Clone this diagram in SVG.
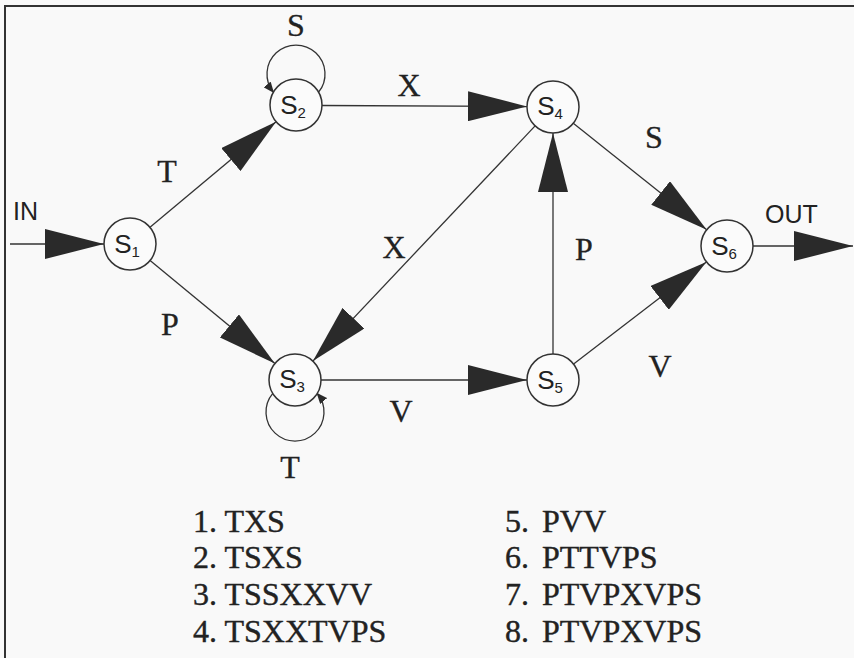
<svg xmlns="http://www.w3.org/2000/svg" width="854" height="658" viewBox="0 0 854 658">
<style>
.edge{fill:none;stroke:#333;stroke-width:1.3}
.node{fill:#fbfbfb;stroke:#333;stroke-width:1.5}
.nl{font-family:"Liberation Sans",Arial,sans-serif;font-size:26px;fill:#222;text-anchor:middle}
.sub{font-size:15px}
.el{font-family:"Liberation Serif","Times New Roman",serif;font-size:32px;fill:#222;stroke:#222;stroke-width:0.3;text-anchor:middle}
.io{font-family:"Liberation Sans",Arial,sans-serif;font-size:25px;fill:#222}
.li{font-family:"Liberation Serif","Times New Roman",serif;font-size:32px;fill:#222;stroke:#222;stroke-width:0.4}
</style>
<defs>
<marker id="big" markerUnits="userSpaceOnUse" markerWidth="60" markerHeight="30" refX="59" refY="15" orient="auto" viewBox="0 0 60 30">
<path d="M0,0 L59,15 L0,30 Z" fill="#2a2a2a"/>
</marker>
<marker id="small" markerUnits="userSpaceOnUse" markerWidth="11" markerHeight="9" refX="10" refY="4.5" orient="auto" viewBox="0 0 11 9">
<path d="M0,0 L11,4.5 L0,9 Z" fill="#2a2a2a"/>
</marker>
</defs>
<rect x="0" y="0" width="854" height="658" fill="#f9f9f9"/>
<path d="M5,658 L5,6 L854,6" fill="none" stroke="#333" stroke-width="2"/>

<g id="connectors">
<line class="edge" x1="10" y1="244" x2="104" y2="244" marker-end="url(#big)"/>
<line class="edge" x1="150" y1="227.3" x2="276.1" y2="121.7" marker-end="url(#big)"/>
<line class="edge" x1="150.1" y1="260.5" x2="274.9" y2="363.5" marker-end="url(#big)"/>
<line class="edge" x1="322" y1="105.5" x2="527" y2="106.5" marker-end="url(#big)"/>
<line class="edge" x1="535.1" y1="125.9" x2="312.9" y2="361.1" marker-end="url(#big)"/>
<line class="edge" x1="573.3" y1="123.2" x2="706.7" y2="229.8" marker-end="url(#big)"/>
<line class="edge" x1="553" y1="354" x2="553" y2="133" marker-end="url(#big)"/>
<line class="edge" x1="321" y1="380" x2="527" y2="380" marker-end="url(#big)"/>
<line class="edge" x1="573.6" y1="364.1" x2="706.4" y2="261.9" marker-end="url(#big)"/>
<line class="edge" x1="753" y1="246" x2="853" y2="246" marker-end="url(#big)"/>
<path class="edge" d="M318.6,92.2 A29,29 0 1 0 273.4,92.2" marker-end="url(#small)"/>
<path class="edge" d="M272.8,393.4 A29,29 0 1 0 317.2,393.4" marker-end="url(#small)"/>
</g>

<g id="edge-labels">
<text class="el" x="296" y="36">S</text>
<text class="el" x="167" y="182">T</text>
<text class="el" x="409" y="96">X</text>
<text class="el" x="394" y="258">X</text>
<text class="el" x="170" y="335">P</text>
<text class="el" x="290" y="478">T</text>
<text class="el" x="401" y="422">V</text>
<text class="el" x="584" y="260">P</text>
<text class="el" x="654" y="148">S</text>
<text class="el" x="660" y="377">V</text>
<text class="io" x="13" y="220">IN</text>
<text class="io" x="765" y="223">OUT</text>
</g>

<g id="S1"><circle class="node" cx="130" cy="244" r="26"/><text class="nl" x="127" y="253">S<tspan class="sub" dy="4">1</tspan></text></g>
<g id="S2"><circle class="node" cx="296" cy="105" r="26"/><text class="nl" x="293" y="114">S<tspan class="sub" dy="4">2</tspan></text></g>
<g id="S3"><circle class="node" cx="295" cy="380" r="26"/><text class="nl" x="292" y="388">S<tspan class="sub" dy="4">3</tspan></text></g>
<g id="S4"><circle class="node" cx="553" cy="107" r="26"/><text class="nl" x="550" y="115">S<tspan class="sub" dy="4">4</tspan></text></g>
<g id="S5"><circle class="node" cx="553" cy="380" r="26"/><text class="nl" x="550" y="389">S<tspan class="sub" dy="4">5</tspan></text></g>
<g id="S6"><circle class="node" cx="727" cy="246" r="26"/><text class="nl" x="724" y="255">S<tspan class="sub" dy="4">6</tspan></text></g>

<g id="list">
<text class="li" x="193" y="532">1. TXS</text>
<text class="li" x="193" y="568">2. TSXS</text>
<text class="li" x="193" y="605">3. TSSXXVV</text>
<text class="li" x="193" y="642">4. TSXXTVPS</text>
<text class="li" x="505" y="532" word-spacing="5">5. PVV</text>
<text class="li" x="505" y="568" word-spacing="5">6. PTTVPS</text>
<text class="li" x="505" y="605" word-spacing="5">7. PTVPXVPS</text>
<text class="li" x="505" y="642" word-spacing="5">8. PTVPXVPS</text>
</g>
</svg>
